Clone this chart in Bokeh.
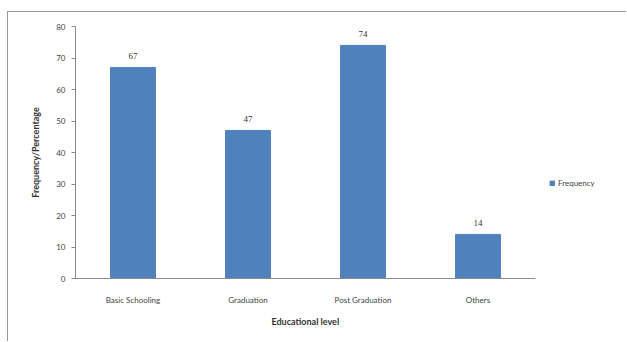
from bokeh.plotting import figure
from bokeh.models import ColumnDataSource, Legend, LegendItem, LabelSet, FixedTicker, Range1d, Title
from bokeh.embed import file_html
from bokeh.resources import INLINE

categories = ["Basic Schooling", "Graduation", "Post Graduation", "Others"]
frequency = [67, 47, 74, 14]
y_ticks = [0, 10, 20, 30, 40, 50, 60, 70, 80]

BAR = "#4F81BD"
FONT = "Lato"

xpos = [i + 0.5 for i in range(len(categories))]
src = ColumnDataSource(dict(x=xpos, cat=categories, val=frequency, lab=[str(v) for v in frequency]))

n = len(categories)
p = figure(width=619, height=330, x_range=Range1d(0, n * 1.2), y_range=Range1d(0, 80),
           output_backend="svg", toolbar_location=None,
           min_border_left=67, min_border_right=0, min_border_top=14, min_border_bottom=64)
p.margin = (11, 0, 0, 7)
p.styles = {"border-left": "1px solid #999999", "border-top": "1px solid #999999"}
p.outline_line_color = None
p.grid.visible = False

r = p.vbar(x="x", top="val", width=0.39, source=src, color=BAR)

labels = LabelSet(x="x", y="val", text="lab", source=src, y_offset=8, text_align="center",
                  text_font=FONT, text_font_size="9px", text_color="#333333")
p.add_layout(labels)

p.yaxis.ticker = FixedTicker(ticks=y_ticks)
p.xaxis.ticker = FixedTicker(ticks=xpos)
p.xaxis.major_label_overrides = {x: c for x, c in zip(xpos, categories)}
p.xaxis.bounds = (0, n)
for ax in (p.xaxis[0], p.yaxis[0]):
    ax.axis_line_color = "#8a8a8a"
    ax.major_tick_line_color = "#8a8a8a"
    ax.minor_tick_line_color = None
    ax.major_label_text_font = FONT
    ax.major_label_text_font_size = "8px"
    ax.major_label_text_color = "#444444"
    ax.axis_label_text_font = FONT
    ax.axis_label_text_font_size = "9px"
    ax.axis_label_text_font_style = "bold"
    ax.axis_label_text_color = "#333333"
p.yaxis.major_tick_in = 0
p.yaxis.major_tick_out = 4
p.xaxis.major_tick_in = 0
p.xaxis.major_tick_out = 0
p.xaxis.major_label_standoff = 16
p.yaxis.major_label_standoff = 6
p.yaxis.axis_label = "Frequency/Percentage"
p.yaxis.axis_label_standoff = 12

xtitle = Title(text="Educational level", align="left", offset=196, standoff=12,
               text_font=FONT, text_font_size="9px", text_font_style="bold", text_color="#333333")
p.add_layout(xtitle, "below")

legend = Legend(items=[LegendItem(label="Frequency", renderers=[r])], location=(474, 90),
                label_text_font=FONT, label_text_font_size="8px", label_text_color="#444444",
                glyph_width=6, glyph_height=6, border_line_color=None, background_fill_alpha=0,
                padding=2, margin=0, label_standoff=3)
p.add_layout(legend)

open("out.html", "w").write(file_html(p, INLINE))
